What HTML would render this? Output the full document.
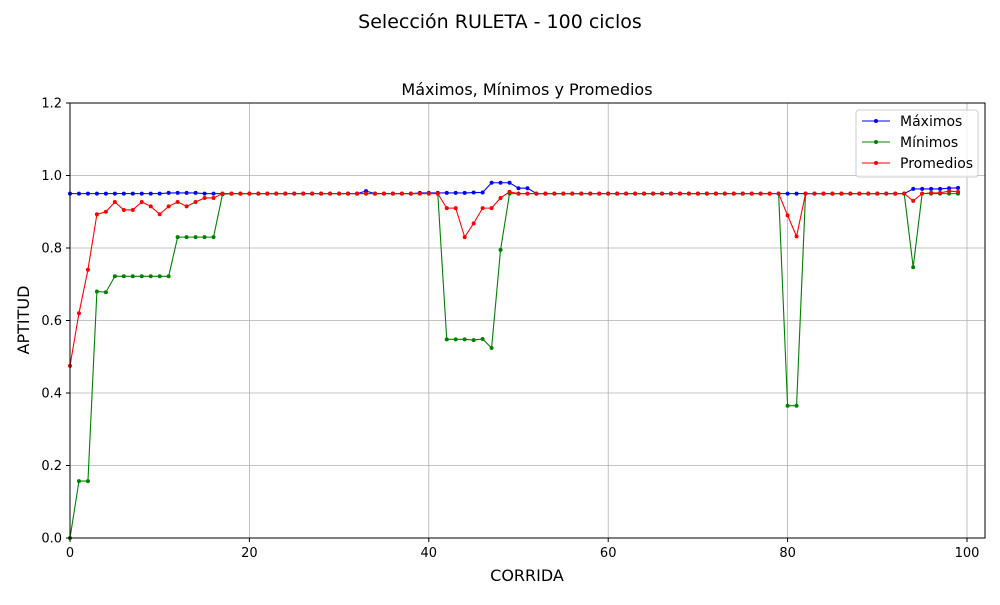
<!DOCTYPE html>
<html><head><meta charset="utf-8"><style>
body{margin:0;background:#fff;font-family:"Liberation Sans","DejaVu Sans",sans-serif}
</style></head><body>
<svg id="chart" width="1000" height="600" xmlns="http://www.w3.org/2000/svg" font-family="DejaVu Sans, Liberation Sans, sans-serif">
<text x="500" y="28" text-anchor="middle" font-size="19">Selección RULETA - 100 ciclos</text>
<text x="527" y="95" text-anchor="middle" font-size="16">Máximos, Mínimos y Promedios</text>
<g id="grid"></g><g id="series"></g><g id="axes"></g>
<text x="527" y="581" text-anchor="middle" font-size="16">CORRIDA</text>
<text x="29" y="320" text-anchor="middle" font-size="16" transform="rotate(-90 29 320)">APTITUD</text>
<g>
<rect x="856" y="110" width="122" height="67" rx="3" fill="#fff" fill-opacity="0.8" stroke="#ccc"/>
<line x1="862" y1="121" x2="890" y2="121" stroke="blue"/><circle cx="876" cy="121" r="2" fill="blue"/>
<text x="900" y="126" font-size="14">Máximos</text>
<line x1="862" y1="142" x2="890" y2="142" stroke="green"/><circle cx="876" cy="142" r="2" fill="green"/>
<text x="900" y="147" font-size="14">Mínimos</text>
<line x1="862" y1="163" x2="890" y2="163" stroke="red"/><circle cx="876" cy="163" r="2" fill="red"/>
<text x="900" y="168" font-size="14">Promedios</text>
</g>
</svg>
<script>
const xTicks=[0,20,40,60,80,100];
const yTicks=[0.0,0.2,0.4,0.6,0.8,1.0,1.2];
function fill(n,v){return Array(n).fill(v);}
const maxVals=[].concat(fill(11,0.95),[0.952,0.952,0.952,0.952],fill(18,0.95),[0.957],fill(5,0.95),[0.952,0.952,0.952,0.952,0.952,0.952,0.953,0.953,0.98,0.98,0.98,0.965,0.965],fill(42,0.95),[0.963,0.963,0.963,0.963,0.965,0.966]);
const minVals=[0.0,0.157,0.157,0.68,0.678,0.722,0.722,0.722,0.722,0.722,0.722,0.722,0.83,0.83,0.83,0.83,0.83,0.948].concat(fill(24,0.95),[0.548,0.548,0.548,0.546,0.549,0.524,0.795],fill(31,0.95),[0.365,0.365],fill(12,0.95),[0.747],fill(5,0.95));
const avgVals=[0.475,0.62,0.74,0.893,0.9,0.927,0.905,0.905,0.927,0.915,0.893,0.915,0.927,0.915,0.927,0.938,0.938].concat(fill(25,0.95),[0.91,0.91,0.83,0.868,0.91,0.91,0.938,0.955],fill(30,0.95),[0.89,0.832],fill(12,0.95),[0.93,0.95,0.952,0.952,0.957,0.955]);
const L=70,R=985,T=103,B=538,XMIN=0,XMAX=(985-70)/8.97,YMIN=0,YMAX=1.2;
const sx=v=>L+(v-XMIN)/(XMAX-XMIN)*(R-L);
const sy=v=>B-(v-YMIN)/(YMAX-YMIN)*(B-T);
const NS="http://www.w3.org/2000/svg";
function mk(t,a,p){const e=document.createElementNS(NS,t);for(const k in a)e.setAttribute(k,a[k]);p.appendChild(e);return e;}
const grid=document.getElementById('grid'),axes=document.getElementById('axes'),ser=document.getElementById('series');
xTicks.forEach(v=>{const x=sx(v);
 const g=mk('line',{x1:x,x2:x,y1:T,y2:B,stroke:'#b0b0b0','stroke-width':0.8},grid);
 
 
 mk('line',{x1:x,x2:x,y1:B,y2:B+4,stroke:'#000'},axes);
 const t=mk('text',{x:x,y:B+19,'text-anchor':'middle','font-size':13},axes);t.textContent=v;
 
 });
yTicks.forEach(v=>{const y=sy(v);
 const g=mk('line',{x1:L,x2:R,y1:y,y2:y,stroke:'#b0b0b0','stroke-width':0.8},grid);
 
 
 mk('line',{x1:L-4,x2:L,y1:y,y2:y,stroke:'#000'},axes);
 const t=mk('text',{x:L-8,y:y+4.5,'text-anchor':'end','font-size':13},axes);t.textContent=v.toFixed(1);
 
 });
const fr=mk('rect',{x:L,y:T,width:R-L,height:B-T,fill:'none',stroke:'#000','stroke-width':1},axes);


[[maxVals,'blue','series-max'],[minVals,'green','series-min'],[avgVals,'red','series-avg']].forEach(([d,c,n])=>{
 const g=mk('g',{},ser);
 
 
 mk('polyline',{points:d.map((v,i)=>sx(i)+','+sy(v)).join(' '),fill:'none',stroke:c,'stroke-width':1.1},g);
 d.forEach((v,i)=>{const p=mk('circle',{cx:sx(i),cy:sy(v),r:2,fill:c},g);
  
  });
});
</script>
</body></html>
